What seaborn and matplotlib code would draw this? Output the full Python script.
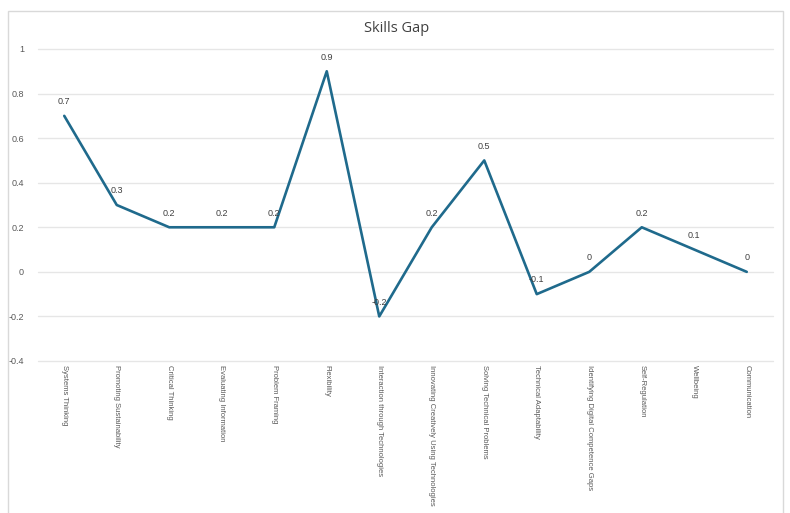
import matplotlib
matplotlib.use("Agg")
import matplotlib.pyplot as plt
import seaborn as sns
import pandas as pd
from matplotlib.patches import Rectangle

categories = [
    "Systems Thinking", "Promoting Sustainability", "Critical Thinking",
    "Evaluating Information", "Problem Framing", "Flexibility",
    "Interaction through Technologies", "Innovating Creatively Using Technologies",
    "Solving Technical Problems", "Technical Adaptability",
    "Identifying Digital Competence Gaps", "Self-Regulation", "Wellbeing",
    "Communication",
]
values = [0.7, 0.3, 0.2, 0.2, 0.2, 0.9, -0.2, 0.2, 0.5, -0.1, 0, 0.2, 0.1, 0]
value_labels = ["0.7", "0.3", "0.2", "0.2", "0.2", "0.9", "-0.2", "0.2", "0.5",
                "-0.1", "0", "0.2", "0.1", "0"]
y_ticks = [-0.4, -0.2, 0, 0.2, 0.4, 0.6, 0.8, 1]
y_tick_labels = ["-0.4", "-0.2", "0", "0.2", "0.4", "0.6", "0.8", "1"]

sns.set_theme(style="white")
plt.rcParams["font.family"] = ["Liberation Sans", "DejaVu Sans"]

df = pd.DataFrame({"pos": range(len(categories)), "value": values})

fig = plt.figure(figsize=(7.9, 5.13), dpi=100)
ax = fig.add_axes([38 / 790, 1 - 361 / 513, (773 - 38) / 790, (361 - 49) / 513])

# chart frame
fig.patches.append(Rectangle((8 / 790, -0.05), (783 - 8) / 790, 1.05 - 11 / 513,
                             transform=fig.transFigure, fill=False,
                             edgecolor="#d9d9d9", linewidth=1.0))

sns.lineplot(data=df, x="pos", y="value", ax=ax, color="#1f6a8c",
             linewidth=1.9, clip_on=False)

ax.set_xlim(-0.5, len(categories) - 0.5)
ax.set_ylim(-0.4, 1)
ax.set_yticks(y_ticks)
ax.set_yticklabels(y_tick_labels, fontsize=6.5, color="#595959")
ax.set_xticks(range(len(categories)))
ax.set_xticklabels(categories, rotation=270, fontsize=5.5, color="#595959",
                   va="top", ha="center")
ax.tick_params(axis="x", length=0, pad=3)
ax.tick_params(axis="y", length=0, pad=10)
ax.yaxis.grid(True, color="#e6e6e6", linewidth=1.0)
ax.xaxis.grid(False)
for gl in ax.get_ygridlines():
    gl.set_clip_on(False)
for s in ax.spines.values():
    s.set_visible(False)
ax.set_xlabel("")
ax.set_ylabel("")

for i, (v, lab) in enumerate(zip(values, value_labels)):
    ax.annotate(lab, (i, v), xytext=(0, 7), textcoords="offset points",
                ha="center", va="bottom", fontsize=6.5, color="#404040")

fig.text(397 / 790, 1 - 28 / 513, "Skills Gap", ha="center", va="center",
         fontsize=10.5, color="#404040", family=["Open Sans", "DejaVu Sans"])

fig.savefig("out.png", dpi=100)
